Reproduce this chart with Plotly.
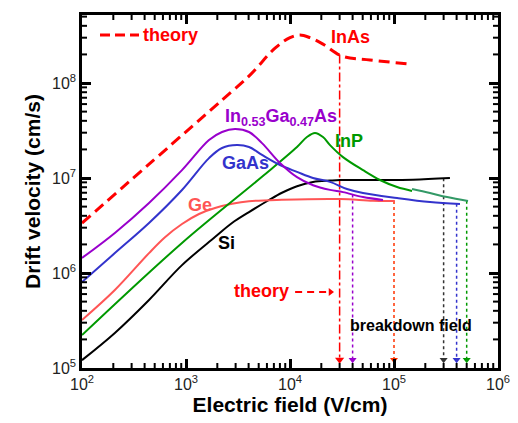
import numpy as np
import plotly.graph_objects as go

# ---------------- data ----------------
inas_E = [100, 2220, 4120, 7180, 10000, 12480, 15560, 20760, 31620, 58750, 142600]
inas_v = [3.36e6, 6.62e7, 1.21e8, 2.33e8, 3.0e8, 3.2e8, 3.0e8, 2.57e8, 1.92e8, 1.75e8, 1.58e8]

ingaas_E = [100, 207, 441, 915, 1664, 2220, 2960, 4036, 5380, 8010, 11680, 16640,
            24250, 32330, 50370, 78400]
ingaas_v = [1.44e6, 2.64e6, 5.46e6, 1.21e7, 2.51e7, 3.05e7, 3.28e7, 3.05e7, 2.33e7,
            1.44e7, 1.02e7, 8.4e6, 7.5e6, 7.1e6, 6.3e6, 5.87e6]

gaas_E = [100, 207, 441, 915, 1664, 2220, 3090, 4036, 5380, 8010, 11680, 16640, 24250,
          35300, 50370, 107000, 222000, 431000]
gaas_v = [8.04e5, 1.62e6, 3.36e6, 7.48e6, 1.62e7, 2.07e7, 2.22e7, 2.12e7, 1.75e7, 1.37e7,
          1.16e7, 1.0e7, 9.1e6, 7.66e6, 6.95e6, 6.16e6, 5.59e6, 5.32e6]

inp_E = [100, 915, 5380, 11680, 14560, 17380, 20760, 24250, 32330, 50370, 73300, 107000,
         149000]
inp_v = [2.22e5, 2.07e6, 1.03e7, 2.12e7, 2.7e7, 2.98e7, 2.7e7, 2.22e7, 1.66e7, 1.21e7,
         9.53e6, 8.03e6, 7.3e6]
inp2_E = [149000, 222000, 324000, 515000]
inp2_v = [7.66e6, 6.95e6, 6.3e6, 5.73e6]

ge_E = [100, 207, 441, 628, 915, 1334, 1900, 2770, 4036, 8370, 30270, 62800, 102000]
ge_v = [3.2e5, 6.62e5, 1.62e6, 2.38e6, 3.28e6, 4.18e6, 4.83e6, 5.35e6, 5.7e6, 5.9e6,
        6.0e6, 5.75e6, 5.73e6]

si_E = [100, 207, 441, 915, 1900, 2770, 4036, 6280, 8370, 11680, 16640, 24250, 30270,
        73300, 152000, 345000]
si_v = [1.21e5, 2.34e5, 5.2e5, 1.21e6, 2.39e6, 3.36e6, 4.38e6, 5.87e6, 7.0e6, 8.2e6,
        9.08e6, 9.4e6, 9.53e6, 9.53e6, 9.6e6, 1.0e7]

# breakdown fields (V/cm)
bd_names = ["InGaAs", "Ge", "Si", "GaAs", "InP"]
bd_fields = [4.0e4, 1.0e5, 3.0e5, 4.0e5, 5.0e5]
bd_colors = ["#9900CC", "#FF3300", "#333333", "#3333CC", "#009900"]
bd_curves = [(ingaas_E, ingaas_v), (ge_E, ge_v), (si_E, si_v), (gaas_E, gaas_v),
             (inp2_E, inp2_v)]
theory_bd_field = 3.0e4
arrow_floor = 1.22e5

xtick_vals = [1e2, 1e3, 1e4, 1e5, 1e6]
xtick_text = ["10<sup>2</sup>", "10<sup>3</sup>", "10<sup>4</sup>", "10<sup>5</sup>", "10<sup>6</sup>"]
ytick_vals = [1e5, 1e6, 1e7, 1e8]
ytick_text = ["10<sup>5</sup>", "10<sup>6</sup>", "10<sup>7</sup>", "10<sup>8</sup>"]

X_RANGE = [2, 6]
Y_RANGE = [5, 8.716]
FONT = "Liberation Sans, Arial, sans-serif"


def interp_loglog(E, xs, ys):
    return 10 ** np.interp(np.log10(E), np.log10(xs), np.log10(ys))


fig = go.Figure()


def line(x, y, color, width=2, dash="solid", shape="linear"):
    fig.add_trace(go.Scatter(x=x, y=y, mode="lines", showlegend=False, hoverinfo="skip",
                             line=dict(color=color, width=width, dash=dash, shape=shape,
                                       smoothing=1.0 if shape == "spline" else None)))


# breakdown dotted arrows
for f, c, (cx, cy) in zip(bd_fields, bd_colors, bd_curves):
    top = interp_loglog(f, cx, cy)
    line([f, f], [top, arrow_floor], c, width=1.5, dash="dot")
    fig.add_trace(go.Scatter(x=[f], y=[arrow_floor], mode="markers", showlegend=False,
                             hoverinfo="skip",
                             marker=dict(symbol="triangle-down", size=7, color=c)))

# theory breakdown dash-dot
top_t = interp_loglog(theory_bd_field, inas_E, inas_v)
line([theory_bd_field, theory_bd_field], [top_t, arrow_floor], "#FF0000", width=1.5,
     dash="dashdot")
fig.add_trace(go.Scatter(x=[theory_bd_field], y=[arrow_floor], mode="markers",
                         showlegend=False, hoverinfo="skip",
                         marker=dict(symbol="triangle-down", size=8, color="#FF0000")))

# curves
line(si_E, si_v, "#000000", shape="spline")
line(ge_E, ge_v, "#FF5555", shape="spline")
line(inp_E, inp_v, "#009900", shape="spline")
line(inp2_E, inp2_v, "#339966", shape="spline")
line(gaas_E, gaas_v, "#3333CC", shape="spline")
line(ingaas_E, ingaas_v, "#9900CC", shape="spline")
line(inas_E, inas_v, "#FF0000", width=3, dash="11px,6px", shape="spline")

# "theory - - ->" pointer
theory_ptr_E = [1.12e4, 2.45e4]
theory_ptr_v = [6.3e5, 6.3e5]
line(theory_ptr_E, theory_ptr_v, "#FF0000", width=2, dash="7px,5px")
fig.add_trace(go.Scatter(x=[theory_ptr_E[-1]], y=[theory_ptr_v[-1]], mode="markers",
                         showlegend=False, hoverinfo="skip",
                         marker=dict(symbol="triangle-right", size=7, color="#FF0000")))

# minor ticks (inside, on all four sides), drawn on the axes' own scales
PX_X = 416.0 / (X_RANGE[1] - X_RANGE[0])   # pixels per decade
PX_Y = 353.0 / (Y_RANGE[1] - Y_RANGE[0])
minor_x = [k * 10 ** d for d in range(2, 6) for k in range(2, 10)]
minor_y = [k * 10 ** d for d in range(5, 9) for k in range(2, 10)
           if np.log10(k * 10 ** d) < Y_RANGE[1]]
mlen = 5
tx, ty = [], []
for m in minor_x:
    tx += [m, m, None, m, m, None]
    ty += [10 ** Y_RANGE[0], 10 ** (Y_RANGE[0] + mlen / PX_Y), None,
           10 ** Y_RANGE[1], 10 ** (Y_RANGE[1] - mlen / PX_Y), None]
for m in minor_y:
    tx += [10 ** X_RANGE[0], 10 ** (X_RANGE[0] + mlen / PX_X), None,
           10 ** X_RANGE[1], 10 ** (X_RANGE[1] - mlen / PX_X), None]
    ty += [m, m, None, m, m, None]
fig.add_trace(go.Scatter(x=tx, y=ty, mode="lines", showlegend=False, hoverinfo="skip",
                         line=dict(color="black", width=2), connectgaps=False))


def px2paper(px, py):
    return (px - 82) / 416.0, (368 - py) / 353.0


def label(text, px, py, color, size=18, xanchor="center"):
    x, y = px2paper(px, py)
    fig.add_annotation(x=x, y=y, xref="paper", yref="paper", text=text, showarrow=False,
                       xanchor=xanchor, yanchor="middle",
                       font=dict(family=FONT, size=size, color=color))


label("<b>theory</b>", 141, 35, "#FF0000", xanchor="left")
label("<b>InAs</b>", 350, 37, "#FF0000")
label("<b>In<sub>0.53</sub>Ga<sub>0.47</sub>As</b>", 281, 117, "#9900CC")
label("<b>InP</b>", 349, 141, "#009900")
label("<b>GaAs</b>", 245, 163, "#3333CC")
label("<b>Ge</b>", 200, 205, "#FF5555")
label("<b>Si</b>", 226, 243, "#000000")
label("<b>theory</b>", 261, 291, "#FF0000")
label("<b>breakdown field</b>", 411, 325, "#000000", size=16)

# legend dashes for "theory"
lx0, ly = px2paper(100, 35)
lx1, _ = px2paper(139, 35)
fig.add_shape(type="line", xref="paper", yref="paper", x0=lx0, x1=lx1, y0=ly, y1=ly,
              line=dict(color="#FF0000", width=3, dash="10px,5px"))

axis_common = dict(showline=True, linecolor="black", linewidth=2.5, mirror="ticks",
                   ticks="inside", ticklen=9, tickwidth=2.5, tickcolor="black",
                   showgrid=False, zeroline=False,
                   tickfont=dict(family=FONT, size=16, color="#222222"))

fig.update_layout(
    xaxis=dict(type="log", range=X_RANGE, tickmode="array", tickvals=xtick_vals,
               ticktext=xtick_text,
               title=dict(text="<b>Electric field (V/cm)</b>", standoff=6,
                          font=dict(family=FONT, size=21, color="black")),
               **axis_common),
    yaxis=dict(type="log", range=Y_RANGE, tickmode="array", tickvals=ytick_vals,
               ticktext=ytick_text,
               title=dict(text="<b>Drift velocity (cm/s)</b>", standoff=6,
                          font=dict(family=FONT, size=21, color="black")),
               **axis_common),
    width=518, height=423,
    margin=dict(l=82, r=20, t=15, b=55, autoexpand=False),
    paper_bgcolor="white", plot_bgcolor="white", showlegend=False,
    font=dict(family=FONT))

fig.write_html("out.html")
